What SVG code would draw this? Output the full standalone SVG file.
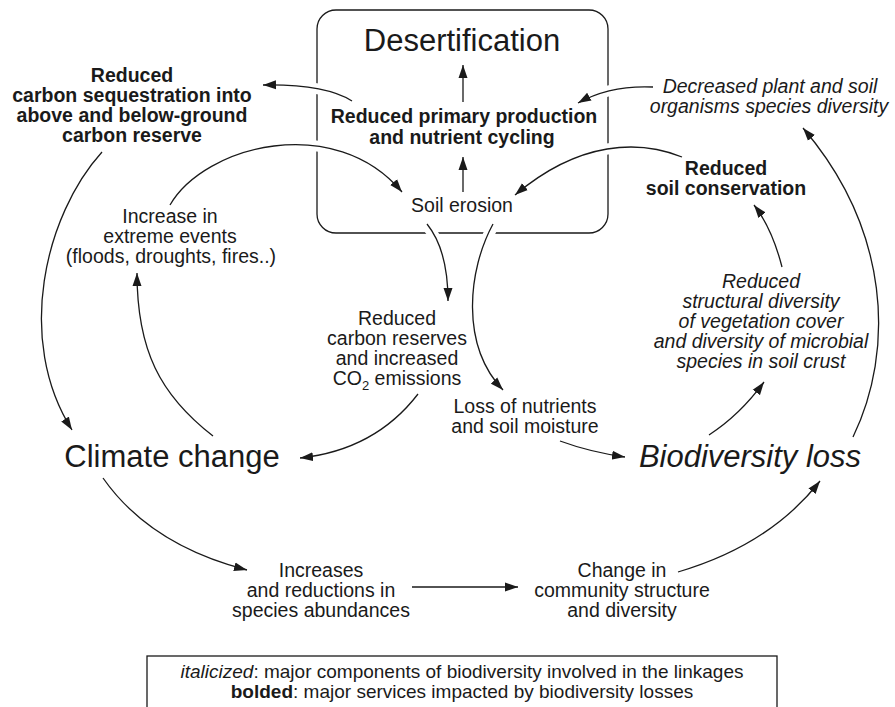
<svg xmlns="http://www.w3.org/2000/svg" width="895" height="707" viewBox="0 0 895 707">
  <style>
    text { font-family: "Liberation Sans", Arial, Helvetica, sans-serif; fill: #1a1a1a; text-anchor: middle; }
    .s { font-size: 19.5px; }
    .b { font-size: 19.5px; font-weight: bold; }
    .i { font-size: 19.5px; font-style: italic; }
    .big { font-size: 31px; }
    .leg { font-size: 19px; }
    .edge { fill: none; stroke: #1a1a1a; stroke-width: 1.3; marker-end: url(#arrow); }
    .halo { fill: none; stroke: #ffffff; stroke-width: 11; }
    .frame { fill: none; stroke: #1a1a1a; stroke-width: 1.3; }
  </style>
  <defs>
    <marker id="arrow" markerUnits="userSpaceOnUse" markerWidth="14" markerHeight="10" refX="13" refY="5" orient="auto">
      <path d="M0,0.5 L13,5 L0,9.5 z" fill="#1a1a1a"/>
    </marker>
  </defs>
  <rect width="895" height="707" fill="#ffffff"/>

  <!-- Desertification frame with its inner items -->
  <g id="desertification">
    <rect class="frame" x="317" y="10" width="291" height="223" rx="19" ry="19"/>
    <text class="big" x="462" y="51">Desertification</text>
  </g>

  <!-- Connectors: white halos open the frame where lines pass through -->
  <g id="connectors">
    <g id="halos">
      <path class="halo" d="M352,101 Q325,84 263,85"/>
      <path class="halo" d="M170,205 C205,145 335,112 402,192"/>
      <path class="halo" d="M682,157 C640,140 580,140 515,195"/>
      <path class="halo" d="M653,87 Q610,85 578,103"/>
      <path class="halo" d="M493,226 C468,270 460,345 503,390"/>
      <path class="halo" d="M427,226 Q448,250 448,301"/>
    </g>
    <path class="edge" d="M352,101 Q325,84 263,85"/>
    <path class="edge" d="M170,205 C205,145 335,112 402,192"/>
    <path class="edge" d="M463,192 L463,157"/>
    <path class="edge" d="M463,102 L463,65"/>
    <path class="edge" d="M682,157 C640,140 580,140 515,195"/>
    <path class="edge" d="M653,87 Q610,85 578,103"/>
    <path class="edge" d="M782,267 Q772,228 754,205"/>
    <path class="edge" d="M853,437 C895,350 890,230 803,128"/>
    <path class="edge" d="M709,435 Q740,415 764,382"/>
    <path class="edge" d="M560,441 Q590,452 625,457"/>
    <path class="edge" d="M493,224 C468,270 460,345 503,390"/>
    <path class="edge" d="M427,224 Q448,250 448,301"/>
    <path class="edge" d="M418,394 Q375,450 300,458"/>
    <path class="edge" d="M213,436 C160,395 137,350 137,273"/>
    <path class="edge" d="M102,152 C45,215 15,340 72,430"/>
    <path class="edge" d="M103,478 Q150,545 247,570"/>
    <path class="edge" d="M412,587 L518,587"/>
    <path class="edge" d="M678,572 Q770,545 820,481"/>
  </g>

  <g id="primary-production">
    <text class="b" x="464" y="123">Reduced primary production</text>
    <text class="b" x="462" y="144">and nutrient cycling</text>
  </g>

  <g id="soil-erosion">
    <text class="s" x="462" y="212">Soil erosion</text>
  </g>

  <g id="carbon-sequestration">
    <text class="b" x="132" y="82">Reduced</text>
    <text class="b" x="132" y="102">carbon sequestration into</text>
    <text class="b" x="132" y="122">above and below-ground</text>
    <text class="b" x="132" y="142">carbon reserve</text>
  </g>

  <g id="extreme-events">
    <text class="s" x="170" y="223">Increase in</text>
    <text class="s" x="170" y="243">extreme events</text>
    <text class="s" x="171" y="263">(floods, droughts, fires..)</text>
  </g>

  <g id="carbon-reserves">
    <text class="s" x="397" y="325">Reduced</text>
    <text class="s" x="397" y="345">carbon reserves</text>
    <text class="s" x="397" y="365">and increased</text>
    <text class="s" x="397" y="385">CO<tspan font-size="13" dy="5">2</tspan><tspan dy="-5"> emissions</tspan></text>
  </g>

  <g id="nutrient-loss">
    <text class="s" x="525" y="413">Loss of nutrients</text>
    <text class="s" x="525" y="433">and soil moisture</text>
  </g>

  <g id="species-diversity">
    <text class="i" x="770" y="93">Decreased plant and soil</text>
    <text class="i" x="769" y="113">organisms species diversity</text>
  </g>

  <g id="soil-conservation">
    <text class="b" x="726" y="175">Reduced</text>
    <text class="b" x="726" y="195">soil conservation</text>
  </g>

  <g id="structural-diversity">
    <text class="i" x="761" y="288">Reduced</text>
    <text class="i" x="761" y="308">structural diversity</text>
    <text class="i" x="761" y="328">of vegetation cover</text>
    <text class="i" x="761" y="348">and diversity of microbial</text>
    <text class="i" x="761" y="368">species in soil crust</text>
  </g>

  <g id="climate-change">
    <text class="big" x="172" y="467">Climate change</text>
  </g>

  <g id="biodiversity-loss">
    <text class="big" x="750" y="467" font-style="italic">Biodiversity loss</text>
  </g>

  <g id="abundances">
    <text class="s" x="321" y="577">Increases</text>
    <text class="s" x="321" y="597">and reductions in</text>
    <text class="s" x="321" y="617">species abundances</text>
  </g>

  <g id="community">
    <text class="s" x="622" y="577">Change in</text>
    <text class="s" x="622" y="597">community structure</text>
    <text class="s" x="622" y="617">and diversity</text>
  </g>

  <g id="legend">
    <rect class="frame" x="147" y="656" width="630" height="70" fill="#ffffff"/>
    <text class="leg" x="462" y="678"><tspan font-style="italic">italicized</tspan>: major components of biodiversity involved in the linkages</text>
    <text class="leg" x="462" y="698"><tspan font-weight="bold">bolded</tspan>: major services impacted by biodiversity losses</text>
  </g>
</svg>
